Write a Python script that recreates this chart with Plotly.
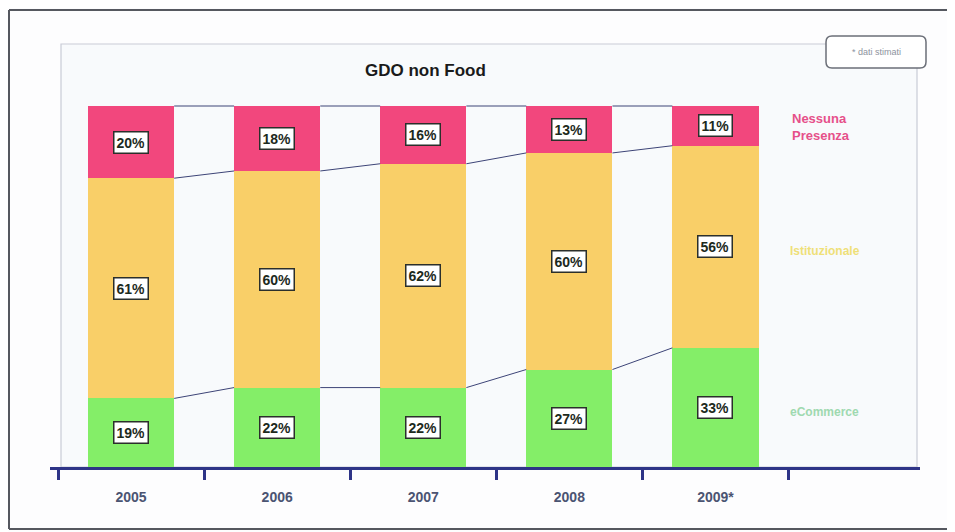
import plotly.graph_objects as go

years = ["2005", "2006", "2007", "2008", "2009*"]
ecommerce = [19, 22, 22, 27, 33]
istituzionale = [61, 60, 62, 60, 56]
nessuna = [20, 18, 16, 13, 11]

series_names = ["eCommerce", "Istituzionale", "Nessuna Presenza"]
colors = ["#84ee68", "#f9cf68", "#f2477d"]
label_colors = ["#9fd9b0", "#efe078", "#e6508a"]

OFF = 8  # default page body margin
W, H = 955 - OFF, 532 - OFF
# plot area in page pixels
PL, PR, PT, PB = 50, 920, 42, 467
XR = [-0.555, 5.4]
YMAX = (PB - PT) / ((PB - 106) / 100.0)


def px(x):
    return (x - PL) / (PR - PL)


def py(y):
    return (PB - y) / (PB - PT)


xs = list(range(len(years)))
bw = 0.59
font = "Arial, Liberation Sans, sans-serif"

fig = go.Figure()
series = [ecommerce, istituzionale, nessuna]
for name, vals, c in zip(series_names, series, colors):
    fig.add_trace(go.Bar(x=xs, y=vals, name=name, width=bw,
                         marker=dict(color=c, line=dict(width=0)),
                         showlegend=False, hoverinfo="skip"))

# connector lines between bars
bounds = []
cum = [0] * len(years)
for vals in series:
    cum = [a + b for a, b in zip(cum, vals)]
    bounds.append(list(cum))
for level in bounds:
    for i in range(len(years) - 1):
        fig.add_trace(go.Scatter(x=[xs[i] + bw / 2, xs[i + 1] - bw / 2],
                                 y=[level[i], level[i + 1]], mode="lines",
                                 line=dict(color="#3d4477", width=1),
                                 showlegend=False, hoverinfo="skip"))

# value labels
ann = []
for k, vals in enumerate(series):
    base = [0] * len(years) if k == 0 else bounds[k - 1]
    for i, v in enumerate(vals):
        ann.append(dict(x=xs[i], y=base[i] + v / 2, xref="x", yref="y",
                        text="<b>%d%%</b>" % v, showarrow=False,
                        xanchor="center", yanchor="middle",
                        font=dict(family=font, size=14, color="#1d2a1d"),
                        bgcolor="#ffffff", bordercolor="#2b2f2b",
                        borderwidth=1.5, borderpad=2))


def txt(x, y, text, size, color, xanchor="left", align="left"):
    return dict(x=px(x), y=py(y), xref="paper", yref="paper", text=text,
                showarrow=False, xanchor=xanchor, yanchor="middle", align=align,
                font=dict(family=font, size=size, color=color))


# series labels on the right
ann.append(txt(790, 127, "<b>Nessuna<br>Presenza</b>", 13, label_colors[2]))
ann.append(txt(788, 251, "<b>Istituzionale</b>", 12, label_colors[1]))
ann.append(txt(788, 412, "<b>eCommerce</b>", 12, label_colors[0]))
# title
ann.append(txt(425, 70, "<b>GDO non Food</b>", 17, "#1a1a1a", xanchor="center"))
# note
ann.append(txt(876, 52, "* dati stimati", 9, "#8d939e", xanchor="center"))


def rounded(x0, y0, x1, y1, r):
    X0, X1 = px(x0), px(x1)
    Y0, Y1 = py(y0), py(y1)
    rx = r / (PR - PL)
    ry = r / (PB - PT)
    return (f"M {X0+rx},{Y0} L {X1-rx},{Y0} Q {X1},{Y0} {X1},{Y0-ry} "
            f"L {X1},{Y1+ry} Q {X1},{Y1} {X1-rx},{Y1} L {X0+rx},{Y1} "
            f"Q {X0},{Y1} {X0},{Y1+ry} L {X0},{Y0-ry} Q {X0},{Y0} {X0+rx},{Y0} Z")


shapes = [
    # outer frame (open on the right, like the scanned page)
    dict(type="line", xref="paper", yref="paper", x0=px(9), y0=py(529),
         x1=px(9), y1=py(10), line=dict(color="#55585f", width=2), layer="below"),
    dict(type="line", xref="paper", yref="paper", x0=px(9), y0=py(10),
         x1=px(1000), y1=py(10), line=dict(color="#55585f", width=2), layer="below"),
    dict(type="line", xref="paper", yref="paper", x0=px(9), y0=py(529),
         x1=px(1000), y1=py(529), line=dict(color="#55585f", width=2), layer="below"),
    # inner panel
    dict(type="rect", xref="paper", yref="paper", x0=px(61), y0=py(467),
         x1=px(917), y1=py(44), line=dict(color="#c9ccd6", width=1.2),
         fillcolor="#f8fafc", layer="below"),
    # note box
    dict(type="path", xref="paper", yref="paper", path=rounded(826, 36, 926, 68, 6),
         line=dict(color="#6b6f78", width=1.5), fillcolor="#ffffff", layer="below"),
]

fig.update_layout(
    width=W, height=H,
    margin=dict(l=PL - OFF, r=W - (PR - OFF), t=PT - OFF, b=H - (PB - OFF), pad=0),
    paper_bgcolor="#fdfdfe", plot_bgcolor="rgba(0,0,0,0)",
    barmode="stack", bargap=0,
    annotations=ann, shapes=shapes,
    xaxis=dict(range=XR, tickvals=xs, ticktext=["<b>%s</b>" % y for y in years],
               ticks="outside", ticklen=15, tickcolor="rgba(0,0,0,0)",
               tickfont=dict(family=font, size=14, color="#4b5472"),
               showline=True, linecolor="#2e3487", linewidth=3,
               showgrid=False, zeroline=False, fixedrange=True),
    xaxis2=dict(range=XR, overlaying="x", matches="x", side="bottom",
                tickvals=[x - 0.5 for x in xs] + [xs[-1] + 0.5],
                ticks="outside", ticklen=12, tickwidth=2.5, tickcolor="#2e3487",
                showticklabels=False, showgrid=False, zeroline=False,
                showline=False),
    yaxis=dict(range=[0, YMAX], visible=False, fixedrange=True),
    font=dict(family=font),
)
fig.add_trace(go.Scatter(x=[None], y=[None], xaxis="x2", showlegend=False))

fig.write_html("out.html")
